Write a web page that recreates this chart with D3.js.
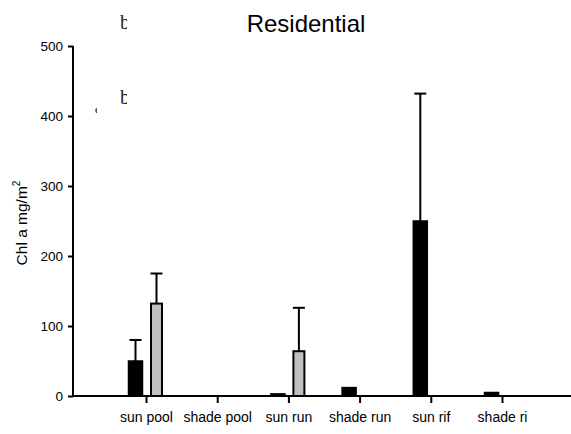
<!DOCTYPE html>
<html>
<head>
<meta charset="utf-8">
<script src="https://cdn.jsdelivr.net/npm/d3@7"></script>
<style>
  html, body { margin: 0; padding: 0; background: #fff; }
  svg { display: block; }
  text { font-family: Arial, "Liberation Sans", sans-serif; fill: #000; }
</style>
</head>
<body>
<svg id="chart" width="571" height="434"></svg>
<script>
// Chlorophyll a at residential sites, two sampling periods per habitat
const categories = ["sun pool", "shade pool", "sun run", "shade run", "sun rif", "shade ri"];
const darkMeans = [50, 0, 3, 12, 250, 5];
const darkErrors = [30, 0, 0, 0, 182, 0];
const lightMeans = [132, 0, 64, 0, 0, 0];
const lightErrors = [43, 0, 62, 0, 0, 0];
const yTicks = [0, 100, 200, 300, 400, 500];

const svg = d3.select("#chart");

const x = d3.scalePoint().domain(categories).range([146, 502]);
const y = d3.scaleLinear().domain([0, 500]).range([396, 46]);

// title
svg.append("text")
  .attr("x", 306).attr("y", 32)
  .attr("text-anchor", "middle")
  .style("font-size", "24px")
  .text("Residential");

// stray partial glyphs in the upper-left corner
const defs = svg.append("defs");
defs.append("clipPath").attr("id", "clipB1")
  .append("rect").attr("x", 118).attr("y", 8).attr("width", 9).attr("height", 24);
defs.append("clipPath").attr("id", "clipB2")
  .append("rect").attr("x", 118).attr("y", 83).attr("width", 9).attr("height", 24);
defs.append("clipPath").attr("id", "clipE")
  .append("rect").attr("x", 94).attr("y", 104).attr("width", 3).attr("height", 12);
svg.append("text").attr("clip-path", "url(#clipB1)")
  .attr("x", 120).attr("y", 29).style("font-family", "'Liberation Serif', serif").style("font-size", "20px").style("fill", "#222").text("b");
svg.append("text").attr("clip-path", "url(#clipB2)")
  .attr("x", 120).attr("y", 104).style("font-family", "'Liberation Serif', serif").style("font-size", "20px").style("fill", "#222").text("b");
svg.append("text").attr("clip-path", "url(#clipE)")
  .attr("x", 95).attr("y", 113).style("font-family", "'Liberation Serif', serif").style("font-size", "11px").text("e");

// y axis
const yAxis = svg.append("g").attr("transform", "translate(73,0)")
  .call(d3.axisLeft(y).tickValues(yTicks).tickSize(5).tickPadding(5));
yAxis.select(".domain").attr("stroke-width", 2).attr("d", "M0,46V396");
yAxis.selectAll(".tick line").attr("stroke-width", 2);
yAxis.selectAll(".tick text").style("font-size", "13.5px").style("font-family", "Arial, 'Liberation Sans', sans-serif");

// x axis
const xAxis = svg.append("g").attr("transform", "translate(0,396)")
  .call(d3.axisBottom(x).tickSize(7).tickPadding(9));
xAxis.select(".domain").attr("stroke-width", 2).attr("d", "M72,0H571");
xAxis.selectAll(".tick line").attr("stroke-width", 2);
xAxis.selectAll(".tick text").style("font-size", "14px").style("font-family", "Arial, 'Liberation Sans', sans-serif");

// y label
svg.append("text")
  .attr("transform", "translate(27,223) rotate(-90)")
  .attr("text-anchor", "middle")
  .style("font-size", "15.5px")
  .html('Chl a mg/m<tspan dy="-7" style="font-size:10px">2</tspan>');

const darkX = c => x(c) - 17.5;
const lightX = c => x(c) + 5;
const darkW = 14, lightW = 11;

const errGroup = svg.append("g").attr("stroke", "#000").attr("stroke-width", 2);
function errorBar(cx, mean, err) {
  if (err <= 0) return;
  errGroup.append("line").attr("x1", cx).attr("x2", cx).attr("y1", y(mean)).attr("y2", y(mean + err));
  errGroup.append("line").attr("x1", cx - 6).attr("x2", cx + 6).attr("y1", y(mean + err)).attr("y2", y(mean + err));
}

categories.forEach((c, i) => {
  errorBar(darkX(c) + darkW / 2, darkMeans[i], darkErrors[i]);
  errorBar(lightX(c) + lightW / 2, lightMeans[i], lightErrors[i]);
});

// dark bars
svg.append("g").selectAll("rect")
  .data(categories.map((c, i) => ({ c, v: darkMeans[i] })).filter(d => d.v > 0))
  .join("rect")
  .attr("x", d => darkX(d.c))
  .attr("y", d => y(d.v))
  .attr("width", darkW)
  .attr("height", d => y(0) - y(d.v))
  .attr("fill", "#000")
  .attr("stroke", "#000")
  .attr("stroke-width", 1.5);

// light bars
svg.append("g").selectAll("rect")
  .data(categories.map((c, i) => ({ c, v: lightMeans[i] })).filter(d => d.v > 0))
  .join("rect")
  .attr("x", d => lightX(d.c))
  .attr("y", d => y(d.v))
  .attr("width", lightW)
  .attr("height", d => y(0) - y(d.v))
  .attr("fill", "#c0c0c0")
  .attr("stroke", "#000")
  .attr("stroke-width", 2);

// redraw baseline on top of bar strokes
svg.append("line").attr("x1", 72).attr("x2", 571).attr("y1", 396).attr("y2", 396)
  .attr("stroke", "#000").attr("stroke-width", 2);
</script>
</body>
</html>
